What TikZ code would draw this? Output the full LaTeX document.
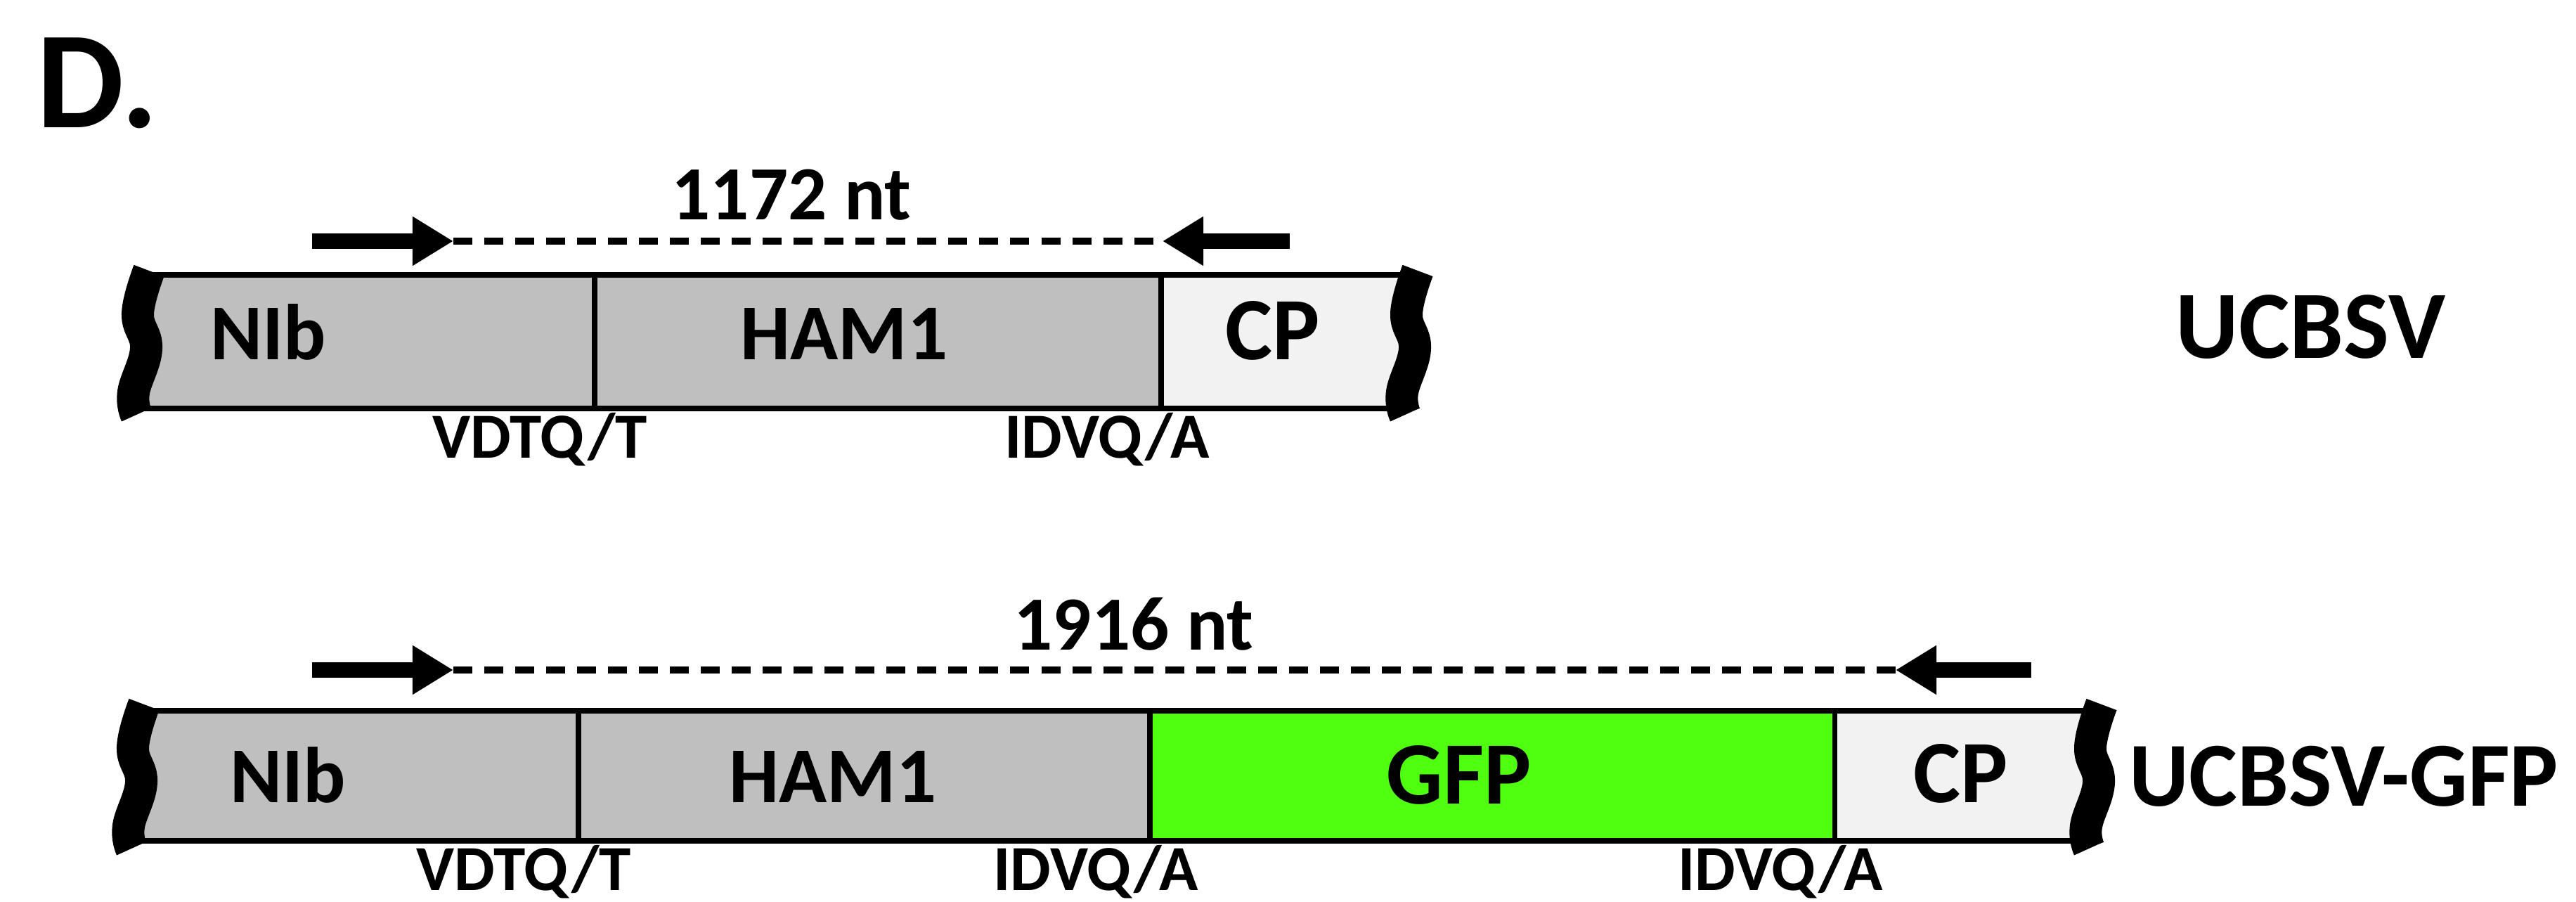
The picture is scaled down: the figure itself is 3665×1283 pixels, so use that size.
\documentclass[tikz,border=0pt]{standalone}
\usepackage{fontspec}
\setmainfont{Carlito}
\usetikzlibrary{arrows.meta}

\definecolor{blockgray}{RGB}{191,191,191}
\definecolor{cpgray}{RGB}{242,242,242}
\definecolor{gfpgreen}{RGB}{80,255,16}
\newcommand{\fsz}[1]{\fontsize{#1}{#1}\selectfont\bfseries}

\begin{document}
\begin{tikzpicture}[
	x=0.01cm, y=-0.01cm,
	seg/.style={draw=black, line width=2pt},
	lbl/.style={inner sep=0pt, anchor=base},
	primer/.style={line width=6.3pt, -{Triangle[length=0.58cm,width=0.66cm]}},
	amplicon/.style={line width=3pt, dash pattern=on 0.27cm off 0.17cm},
	cutend/.pic={
		\draw[line width=0.46cm] plot[smooth, tension=0.7]
		coordinates {(12,-101) (-4,-40) (8,10) (-10,72) (-6,104)};
	}
	]
	
	\useasboundingbox (0,0) rectangle (3665,1283);
	
	\node[lbl, anchor=base west] (panel) at (52,182) {\fsz{56}D.};
	
	% UCBSV
	\draw[seg, fill=blockgray] (200,391) rectangle (846,581);
	\draw[seg, fill=blockgray] (846,391) rectangle (1652,581);
	\draw[seg, fill=cpgray] (1652,391) rectangle (2005,581);
	\pic at (200,486) {cutend};
	\pic at (2005,486) {cutend};
	
	\node[lbl] (nib1) at (382,512) {\fsz{32}NIb};
	\node[lbl] (ham1) at (1201,512) {\fsz{32}HAM1};
	\node[lbl] (cp1) at (1811,512) {\fsz{36}CP};
	\node[lbl] (cs1a) at (768,652) {\fsz{26}VDTQ/T};
	\node[lbl] (cs1b) at (1575,652) {\fsz{26}IDVQ/A};
	\node[lbl, anchor=base west] (virus1) at (3095,510) {\fsz{39}UCBSV};
	
	\coordinate (fwd1s) at (444,343);
	\coordinate (fwd1t) at (645,343);
	\coordinate (rev1t) at (1654,343);
	\coordinate (rev1s) at (1835,343);
	\draw[amplicon] (fwd1t) -- (rev1t);
	\draw[primer] (fwd1s) -- (fwd1t);
	\draw[primer] (rev1s) -- (rev1t);
	\node[lbl] (len1) at (1126,313) {\fsz{31}1172 nt};
	
	% UCBSV-GFP
	\draw[seg, fill=blockgray] (193,1011) rectangle (823,1196);
	\draw[seg, fill=blockgray] (823,1011) rectangle (1636,1196);
	\draw[seg, fill=gfpgreen] (1636,1011) rectangle (2610,1196);
	\draw[seg, fill=cpgray] (2610,1011) rectangle (2978,1196);
	\pic at (193,1103) {cutend};
	\pic at (2978,1103) {cutend};
	
	\node[lbl] (nib2) at (410,1142) {\fsz{32}NIb};
	\node[lbl] (ham2) at (1185,1142) {\fsz{32}HAM1};
	\node[lbl] (gfp2) at (2076,1144) {\fsz{36}GFP};
	\node[lbl] (cp2) at (2790,1142) {\fsz{36}CP};
	\node[lbl] (cs2a) at (745,1267) {\fsz{26}VDTQ/T};
	\node[lbl] (cs2b) at (1559,1267) {\fsz{26}IDVQ/A};
	\node[lbl] (cs2c) at (2533,1267) {\fsz{26}IDVQ/A};
	\node[lbl, anchor=base west] (virus2) at (3029,1147) {\fsz{37}UCBSV-GFP};
	
	\coordinate (fwd2s) at (444,953);
	\coordinate (fwd2t) at (645,953);
	\coordinate (rev2t) at (2697,953);
	\coordinate (rev2s) at (2890,953);
	\draw[amplicon] (fwd2t) -- (rev2t);
	\draw[primer] (fwd2s) -- (fwd2t);
	\draw[primer] (rev2s) -- (rev2t);
	\node[lbl] (len2) at (1613,925) {\fsz{31}1916 nt};
	
\end{tikzpicture}
\end{document}
